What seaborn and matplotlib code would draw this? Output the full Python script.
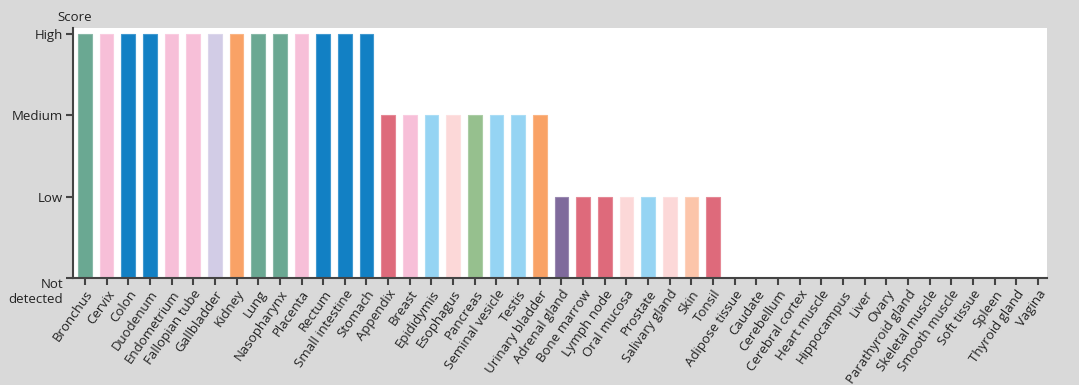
import seaborn as sns
import matplotlib.pyplot as plt
import matplotlib.transforms as mtransforms
import pandas as pd

tissues = ["Bronchus", "Cervix", "Colon", "Duodenum", "Endometrium", "Fallopian tube",
           "Gallbladder", "Kidney", "Lung", "Nasopharynx", "Placenta", "Rectum",
           "Small intestine", "Stomach", "Appendix", "Breast", "Epididymis", "Esophagus",
           "Pancreas", "Seminal vesicle", "Testis", "Urinary bladder", "Adrenal gland",
           "Bone marrow", "Lymph node", "Oral mucosa", "Prostate", "Salivary gland", "Skin",
           "Tonsil", "Adipose tissue", "Caudate", "Cerebellum", "Cerebral cortex",
           "Heart muscle", "Hippocampus", "Liver", "Ovary", "Parathyroid gland",
           "Skeletal muscle", "Smooth muscle", "Soft tissue", "Spleen", "Thyroid gland",
           "Vagina"]
scores = [3] * 14 + [2] * 8 + [1] * 8 + [0] * 15
colors = ["#6aa892", "#f7bfd8", "#1280c4", "#1280c4", "#f7bfd8", "#f7bfd8",
          "#d2cce6", "#f9a266", "#6aa892", "#6aa892", "#f7bfd8", "#1280c4",
          "#1280c4", "#1280c4", "#de6a7b", "#f7bfd8", "#95d4f3", "#fcd8d8",
          "#96c08e", "#95d4f3", "#95d4f3", "#f9a266", "#7f6a9c",
          "#de6a7b", "#de6a7b", "#fcd8d8", "#95d4f3", "#fcd8d8", "#fcc5aa",
          "#de6a7b"] + ["#cccccc"] * 15
score_labels = ["Not\ndetected", "Low", "Medium", "High"]

df = pd.DataFrame({"tissue": tissues, "score": scores})
palette = dict(zip(tissues, colors))

sns.set_style("white")
plt.rcParams["font.family"] = ["Open Sans", "DejaVu Sans"]

fig = plt.figure(figsize=(10.79, 3.85), dpi=100, facecolor="#d9d9d9")
ax = fig.add_axes([0.0677, 0.2779, 0.9026, 0.6494])
ax.set_facecolor("white")

sns.barplot(data=df, x="tissue", y="score", hue="tissue", palette=palette,
            width=0.63, legend=False, saturation=1, ax=ax)

# slightly lighter outline on each bar
for p in ax.patches:
    r, g, b, _ = p.get_facecolor()
    p.set_edgecolor((r + (1 - r) * 0.2, g + (1 - g) * 0.2, b + (1 - b) * 0.2))
    p.set_linewidth(0.8)

ax.set_xlim(-0.55, len(tissues) - 1 + 0.42)
ax.set_ylim(0, 3.074)
ax.set_yticks(range(4))
ax.set_yticklabels(score_labels, fontsize=9.5, color="#222222")
ax.set_xticks(range(len(tissues)))
ax.set_xticklabels(tissues, rotation=55, ha="right", rotation_mode="anchor",
                   fontsize=9.5, color="#222222")

# "Not detected" label: first line centred on the tick
nd = ax.get_yticklabels()[0]
nd.set_verticalalignment("top")
nd.set_multialignment("right")
nd.set_transform(nd.get_transform() + mtransforms.ScaledTranslation(0, 8 / 72, fig.dpi_scale_trans))

ax.set_xlabel("")
ax.set_ylabel("")
for s in ["top", "right"]:
    ax.spines[s].set_visible(False)
for s in ["left", "bottom"]:
    ax.spines[s].set_color("#444444")
    ax.spines[s].set_linewidth(1.5)
ax.tick_params(axis="both", bottom=True, left=True, length=5, width=1.5,
               color="#444444", pad=2)

ax.text(-0.016, 1.04, "Score", transform=ax.transAxes, fontsize=9.5,
        color="#222222", ha="left", va="center")

fig.savefig("out.png", dpi=100, facecolor=fig.get_facecolor())
